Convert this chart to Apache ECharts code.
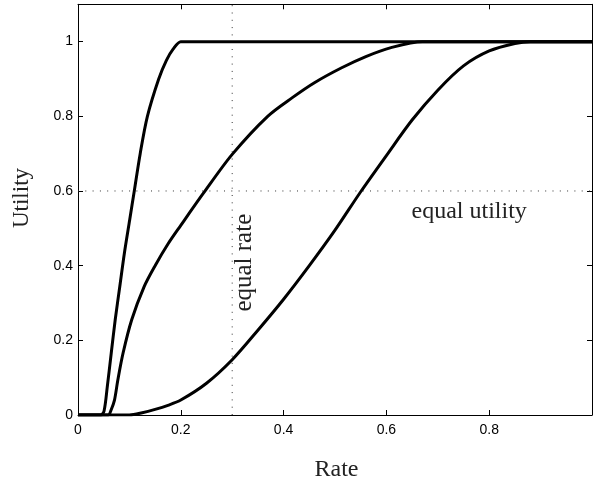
<!DOCTYPE html>
<html>
<head>
<meta charset="utf-8">
<script src="https://cdn.jsdelivr.net/npm/echarts@6/dist/echarts.min.js"></script>
<style>html,body{margin:0;padding:0;background:#fff}#c{width:595px;height:487px}</style>
</head>
<body>
<div id="c"></div>
<script>
// Curve data: [rate, utility]
const curveSteep = [[0,0],[0.03,0],[0.044,0],[0.0506,0.01],[0.057,0.076],[0.0647,0.166],[0.0724,0.255],[0.0813,0.344],[0.0903,0.434],[0.1006,0.523],[0.1095,0.6],[0.121,0.7],[0.135,0.8],[0.157,0.9],[0.172,0.95],[0.185,0.98],[0.2,1],[0.22,1],[0.4,1],[1,1]];
const curveMedium = [[0,0],[0.04,0],[0.059,0],[0.064,0.012],[0.071,0.04],[0.0775,0.094],[0.0877,0.166],[0.1045,0.255],[0.1287,0.344],[0.15,0.4],[0.175,0.458],[0.2,0.508],[0.244,0.594],[0.3,0.698],[0.369,0.8],[0.417,0.85],[0.46,0.89],[0.513,0.93],[0.56,0.96],[0.609,0.984],[0.67,1],[0.7,1],[0.85,1],[1,1]];
const curveSlow = [[0,0],[0.06,0],[0.1,0],[0.125,0.006],[0.15,0.015],[0.175,0.026],[0.2,0.04],[0.25,0.085],[0.3,0.148],[0.35,0.227],[0.4,0.31],[0.45,0.4],[0.5,0.495],[0.55,0.598],[0.6,0.695],[0.65,0.79],[0.7,0.87],[0.75,0.935],[0.8,0.975],[0.85,0.995],[0.88,1],[0.92,1],[1,1]];
const equalRateX = 0.3;
const equalUtilityY = 0.6;
const xTicks = [0, 0.2, 0.4, 0.6, 0.8];
const yTicks = [0, 0.2, 0.4, 0.6, 0.8, 1];
const annotations = [
  {text: 'equal rate', x: 0.323, y: 0.408, rotate: 90, size: 25},
  {text: 'equal utility', x: 0.761, y: 0.545, rotate: 0, size: 24}
];

const chart = echarts.init(document.getElementById('c'), null, {renderer: 'canvas'});
const serif = '"Liberation Serif","Times New Roman",serif';
const sans = '"Liberation Sans",Arial,Helvetica,sans-serif';
const fmtX = v => xTicks.some(t => Math.abs(t - v) < 1e-9) ? String(+v.toFixed(1)) : '';
const fmtY = v => yTicks.some(t => Math.abs(t - v) < 1e-9) ? String(+v.toFixed(1)) : '';
const axisCommon = {
  type: 'value', interval: 0.2,
  axisLine: {show: true, onZero: false, lineStyle: {color: '#000', width: 1}},
  axisTick: {show: true, inside: true, length: 5, lineStyle: {color: '#000', width: 1}},
  splitLine: {show: false}
};
const lineSeries = d => ({
  type: 'line', data: d, xAxisIndex: 0, yAxisIndex: 0,
  showSymbol: false, symbol: 'none', smooth: 0.3,
  lineStyle: {color: '#000', width: 3}, z: 3, silent: true
});
chart.setOption({
  animation: false,
  grid: {left: 78, top: 4.3, width: 520.5, height: 410.7, containLabel: false},
  xAxis: [
    Object.assign({}, axisCommon, {min: 0, max: 1, position: 'bottom',
      name: 'Rate', nameLocation: 'middle', nameGap: 43,
      nameTextStyle: {fontFamily: serif, fontSize: 24, color: '#222', padding: [0, 0, 0, 3]},
      axisLabel: {formatter: fmtX, color: '#000', fontFamily: sans, fontSize: 14, margin: 8}}),
    Object.assign({}, axisCommon, {min: 0, max: 1, position: 'top', axisLabel: {show: false}})
  ],
  yAxis: [
    Object.assign({}, axisCommon, {min: 0, max: 1.1, position: 'left',
      axisLabel: {formatter: fmtY, color: '#000', fontFamily: sans, fontSize: 14, margin: 5}}),
    Object.assign({}, axisCommon, {min: 0, max: 1.1, position: 'right', axisLabel: {show: false}})
  ],
  series: [
    {type: 'line', data: [[equalRateX, 0], [equalRateX, 1.1]], showSymbol: false, symbol: 'none',
     lineStyle: {color: '#333', width: 1, type: [1, 6.3]}, z: 1, silent: true},
    {type: 'line', data: [[0, equalUtilityY], [1, equalUtilityY]], showSymbol: false, symbol: 'none',
     lineStyle: {color: '#333', width: 1, type: [1, 6.3]}, z: 1, silent: true},
    lineSeries(curveSteep),
    lineSeries(curveMedium),
    lineSeries(curveSlow)
  ]
});
const graphics = annotations.map(a => {
  const p = chart.convertToPixel({xAxisIndex: 0, yAxisIndex: 0}, [a.x, a.y]);
  return {type: 'text', x: p[0], y: p[1], rotation: a.rotate * Math.PI / 180,
    style: {text: a.text, fill: '#222', font: a.size + 'px ' + serif, align: 'center', verticalAlign: 'middle'}, z: 5};
});
// y-axis title (slightly above the axis centre, as in the reference)
graphics.push({type: 'text', x: 22, y: 198, rotation: Math.PI / 2,
  style: {text: 'Utility', fill: '#222', font: '23px ' + serif, align: 'center', verticalAlign: 'middle'}});
chart.setOption({graphic: graphics});
</script>
</body>
</html>
